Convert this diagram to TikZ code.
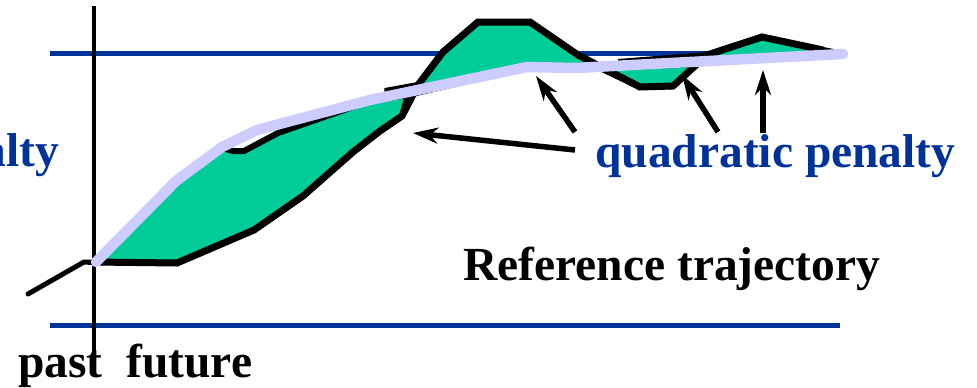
\documentclass[tikz,border=0pt]{standalone}
\usepackage{fontspec}
\setmainfont{Liberation Serif}
\usetikzlibrary{arrows.meta}
\definecolor{penblue}{HTML}{003399}
\definecolor{refgreen}{HTML}{00CC99}
\definecolor{lav}{HTML}{CCCCFF}
\begin{document}
\begin{tikzpicture}[x=1pt,y=-1pt,
  bound/.style={penblue,line width=5pt},
  axisline/.style={black,line width=4.5pt},
  traj/.style={black,line width=7pt,line join=miter,miter limit=3},
  area/.style={fill=refgreen,draw=black,line width=6pt,line join=miter,miter limit=3},
  leadin/.style={black,line width=5pt,line cap=round},
  reftraj/.style={lav,line width=10.5pt,line cap=round,line join=round},
  pointer/.style={black,line width=5.5pt,-{Stealth[length=25pt,width=16pt,inset=8pt]}},
  lbl/.style={font=\fontsize{47.5}{50}\selectfont\bfseries,inner sep=0pt,anchor=base west}]
\useasboundingbox (0,0) rectangle (977,388);
\clip (0,0) rectangle (977,388);
% bounds
\coordinate (tl) at (50,53);  \coordinate (tr) at (840,53);
\coordinate (bl) at (50,325); \coordinate (br) at (840,325);
\draw[bound] (tl) -- (tr);
\draw[bound] (bl) -- (br);
% time axis
\coordinate (axtop) at (94,6); \coordinate (axbot) at (94,355);
\draw[axisline] (axtop) -- (axbot);
% shaded areas
\draw[area] (95,262) -- (176,182) -- (222,148) -- (233,151) -- (244,151) -- (278,133)
  -- (370,101) -- (408,95) -- (402,116) -- (380,131) -- (353,152) -- (303,196)
  -- (254,230) -- (177,263) -- cycle;
\draw[area] (385,91) -- (418,85) -- (443,52) -- (478,22) -- (530,22) -- (578,55)
  -- (600,68) -- (575,68) -- (527,67) -- (408,95) -- cycle;
\draw[area] (600,68) -- (640,87) -- (673,86) -- (697,64) -- cycle;
\draw[area] (618,62) -- (707,55) -- (762,37) -- (823,50) -- (843,54) -- (700,61) -- cycle;
% predicted trajectory
\draw[traj] (94,262) -- (177,263) -- (254,230) -- (303,196) -- (353,152) -- (380,131)
  -- (402,116) -- (418,85) -- (443,52) -- (478,22) -- (530,22) -- (578,55)
  -- (640,87) -- (673,86) -- (707,55) -- (762,37) -- (823,50);
% past
\coordinate (p0) at (28,294); \coordinate (p1) at (84,262); \coordinate (p2) at (94,262);
\draw[leadin] (p0) -- (p1) -- (p2);
% reference trajectory
\draw[reftraj] (96,262) -- (176,181) -- (222,147) -- (257,130) -- (370,100)
  -- (527,67) -- (575,68) -- (843,54);
% arrows
\coordinate (a1s) at (575,150); \coordinate (a1e) at (413,133);
\coordinate (a2s) at (575,132); \coordinate (a2e) at (536,76);
\coordinate (a3s) at (718,132); \coordinate (a3e) at (682,75);
\coordinate (a4s) at (763,133); \coordinate (a4e) at (763,70);
\draw[pointer] (a1s) -- (a1e);
\draw[pointer] (a2s) -- (a2e);
\draw[pointer] (a3s) -- (a3e);
\draw[pointer] (a4s) -- (a4e);
% labels
\node[lbl,text=penblue] (qp) at (595,167) {quadratic penalty};
\node[lbl,text=penblue,anchor=base east] (al) at (59,166) {alty};
\node[lbl] (rt) at (463,280) {Reference trajectory};
\node[lbl] (pf) at (18,377) {past\ \ future};
\end{tikzpicture}
\end{document}
